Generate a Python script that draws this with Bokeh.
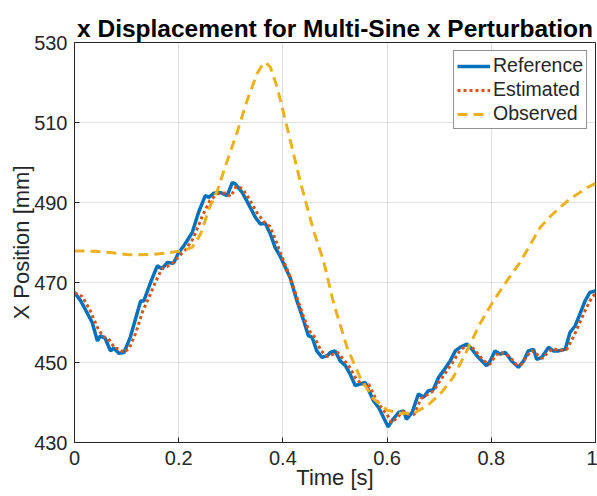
from bokeh.plotting import figure
from bokeh.models import Range1d, FixedTicker, Legend, LegendItem
from bokeh.embed import file_html
from bokeh.resources import INLINE

# ---- data ----
ref_t = [0, 0.012, 0.034, 0.044, 0.05, 0.059, 0.069, 0.075, 0.085, 0.095, 0.107, 0.118, 0.127, 0.133,
         0.146, 0.159, 0.168, 0.178, 0.19, 0.2, 0.21, 0.226, 0.238, 0.251, 0.258, 0.267, 0.28, 0.293,
         0.303, 0.309, 0.322, 0.334, 0.347, 0.357, 0.366, 0.376, 0.385, 0.395, 0.414, 0.427, 0.44,
         0.449, 0.456, 0.465, 0.475, 0.485, 0.491, 0.5, 0.51, 0.52, 0.529, 0.539, 0.548, 0.558, 0.568,
         0.574, 0.584, 0.593, 0.602, 0.609, 0.622, 0.632, 0.637, 0.648, 0.66, 0.67, 0.679, 0.689,
         0.699, 0.708, 0.721, 0.731, 0.74, 0.753, 0.763, 0.775, 0.791, 0.798, 0.807, 0.817, 0.827,
         0.839, 0.852, 0.862, 0.871, 0.881, 0.887, 0.897, 0.91, 0.919, 0.929, 0.942, 0.951, 0.961,
         0.97, 0.98, 0.989, 1.0]
ref_y = [467.5, 465.4, 460.0, 455.4, 456.7, 456.0, 452.9, 453.6, 452.3, 452.5, 456.3, 461.3, 465.4,
         465.4, 470.0, 474.2, 473.4, 475.0, 474.8, 477.5, 479.2, 482.5, 487.5, 491.7, 491.3, 492.3,
         492.5, 491.7, 495.0, 494.6, 492.5, 489.6, 486.3, 484.6, 484.8, 482.1, 478.8, 476.5, 471.2,
         465.4, 460.4, 456.7, 456.3, 452.9, 451.3, 451.7, 452.5, 452.9, 450.4, 449.2, 447.1, 444.2,
         444.6, 445.0, 442.1, 440.4, 438.7, 436.3, 433.9, 435.4, 437.5, 437.9, 435.8, 437.5, 442.1,
         441.3, 442.9, 443.3, 446.3, 447.9, 450.4, 452.9, 453.8, 454.6, 453.3, 451.3, 449.2, 450.4,
         452.9, 452.1, 452.5, 450.4, 448.8, 450.4, 452.9, 453.3, 450.8, 451.3, 453.8, 452.9, 452.9,
         453.3, 457.5, 459.2, 462.1, 465.4, 467.5, 467.9]

est_t = [0, 0.015, 0.03, 0.045, 0.055, 0.065, 0.078, 0.085, 0.094, 0.105, 0.118, 0.13, 0.142, 0.155,
         0.168, 0.178, 0.19, 0.2, 0.212, 0.228, 0.245, 0.26, 0.275, 0.29, 0.3, 0.31, 0.322, 0.335,
         0.35, 0.365, 0.375, 0.385, 0.398, 0.412, 0.425, 0.438, 0.45, 0.46, 0.473, 0.485, 0.495,
         0.505, 0.518, 0.53, 0.54, 0.552, 0.565, 0.578, 0.59, 0.6, 0.608, 0.618, 0.63, 0.64, 0.652,
         0.665, 0.678, 0.69, 0.702, 0.715, 0.728, 0.74, 0.752, 0.762, 0.772, 0.785, 0.797, 0.807,
         0.815, 0.825, 0.835, 0.848, 0.858, 0.868, 0.878, 0.888, 0.898, 0.908, 0.918, 0.93, 0.945,
         0.958, 0.97, 0.982, 0.992, 1.0]
est_y = [467.5, 466.5, 463.0, 458.5, 456.5, 456.0, 453.5, 453.5, 452.5, 453.5, 457.5, 462.5, 466.0,
         470.0, 473.5, 474.0, 475.0, 476.5, 478.0, 481.0, 486.5, 490.5, 492.2, 492.4, 491.5, 494.0,
         493.5, 491.0, 487.5, 485.0, 484.0, 481.0, 476.5, 472.0, 467.0, 462.0, 458.0, 456.5, 453.0,
         451.5, 452.0, 452.5, 450.5, 448.5, 446.0, 444.5, 444.5, 441.0, 438.5, 437.0, 435.0, 436.0,
         437.8, 437.0, 437.0, 441.0, 442.0, 443.0, 445.5, 448.0, 450.5, 453.0, 454.3, 454.0, 452.5,
         450.5, 449.5, 451.5, 452.5, 452.3, 451.5, 449.5, 449.5, 451.5, 453.0, 452.0, 451.0, 452.5,
         453.5, 453.0, 453.3, 456.5, 460.0, 463.5, 466.0, 467.3]

obs_t = [0, 0.04, 0.069, 0.1, 0.12, 0.15, 0.18, 0.203, 0.215, 0.226, 0.242, 0.258, 0.274, 0.293,
         0.313, 0.331, 0.35, 0.36, 0.367, 0.376, 0.389, 0.408, 0.433, 0.459, 0.478, 0.497, 0.523,
         0.548, 0.574, 0.6, 0.625, 0.651, 0.677, 0.702, 0.727, 0.753, 0.778, 0.804, 0.83, 0.855,
         0.875, 0.894, 0.913, 0.932, 0.95, 0.97, 0.985, 1.0]
obs_y = [477.9, 477.8, 477.5, 477.0, 476.9, 477.0, 477.4, 477.9, 478.3, 478.8, 482.1, 488.4, 492.9,
         500.4, 507.9, 515.4, 522.1, 524.3, 525.0, 523.8, 518.8, 508.8, 495.4, 482.9, 475.4, 465.0,
         453.8, 446.3, 440.9, 438.1, 437.3, 437.3, 439.2, 442.1, 446.3, 452.9, 459.6, 465.4, 470.4,
         475.0, 479.5, 483.8, 486.5, 488.8, 490.8, 492.5, 493.8, 494.8]

x_ticks = [0, 0.2, 0.4, 0.6, 0.8, 1.0]
x_tick_labels = ["0", "0.2", "0.4", "0.6", "0.8", "1"]
y_ticks = [430, 450, 470, 490, 510, 530]
series_names = ["Reference", "Estimated", "Observed"]

FONT = "Liberation Sans"
AX = "#262626"

p = figure(width=597, height=496, output_backend="svg", toolbar_location=None,
           x_range=Range1d(0, 1), y_range=Range1d(430, 530),
           min_border_left=74, min_border_right=2, min_border_top=42, min_border_bottom=54,
           background_fill_color="white", border_fill_color="white")

p.title.text = "x Displacement for Multi-Sine x Perturbation"
p.title.text_font = FONT
p.title.text_font_size = "24.5px"
p.title.text_font_style = "bold"
p.title.text_color = "#000000"
p.title.align = "center"
p.title.standoff = 2

r1 = p.line(ref_t, ref_y, line_color="#0072BD", line_width=3.5)
r2 = p.line(est_t, est_y, line_color="#D95319", line_width=3, line_dash="3 3")
r3 = p.line(obs_t, obs_y, line_color="#EDB120", line_width=3, line_dash="10 6")

legend = Legend(items=[LegendItem(label=series_names[0], renderers=[r1]),
                       LegendItem(label=series_names[1], renderers=[r2]),
                       LegendItem(label=series_names[2], renderers=[r3])],
                location="top_right", margin=8, padding=3, spacing=1,
                glyph_width=33, glyph_height=22, label_height=22, label_standoff=3,
                label_text_font=FONT, label_text_font_size="19.5px", label_text_color=AX,
                border_line_color=AX, border_line_width=1, background_fill_alpha=1.0)
p.add_layout(legend, "center")

xb = p.below[0]
yl = p.left[0]
for ax in (xb, yl):
    ax.axis_line_color = AX
    ax.major_tick_line_color = AX
    ax.major_tick_in = 5
    ax.major_tick_out = 0
    ax.minor_tick_line_color = None
    ax.major_label_text_font = FONT
    ax.major_label_text_font_size = "20px"
    ax.major_label_text_color = AX
    ax.axis_label_text_font = FONT
    ax.axis_label_text_font_size = "22px"
    ax.axis_label_text_font_style = "normal"
    ax.axis_label_text_color = AX

xb.ticker = FixedTicker(ticks=x_ticks)
xb.major_label_overrides = {t: s for t, s in zip(x_ticks, x_tick_labels)}
yl.ticker = FixedTicker(ticks=y_ticks)
xb.axis_label = "Time [s]"
yl.axis_label = "X Position [mm]"
xb.major_label_standoff = 8
xb.axis_label_standoff = -3
yl.major_label_standoff = 7
yl.axis_label_standoff = -3

p.grid.grid_line_color = AX
p.grid.grid_line_alpha = 0.15
p.outline_line_color = AX
p.outline_line_width = 1
p.outline_line_alpha = 1.0

open("out.html", "w").write(file_html(p, INLINE))
